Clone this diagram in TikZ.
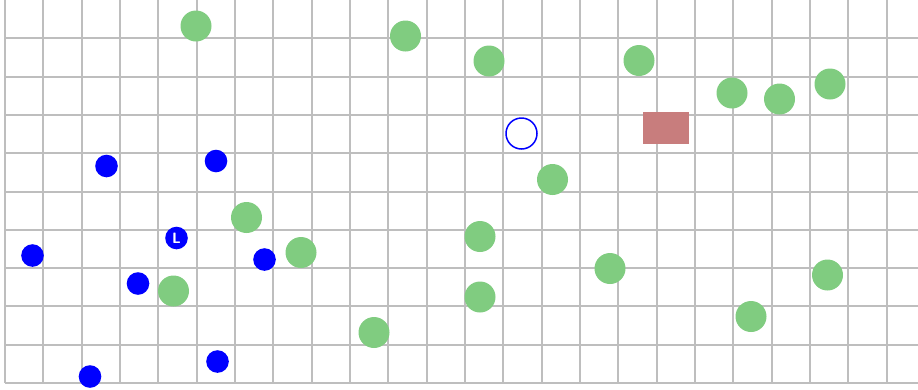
\documentclass[tikz,border=0pt]{standalone}
\usepackage{xcolor}
\usetikzlibrary{positioning}

\definecolor{foodgreen}{RGB}{128,204,128}
\definecolor{agentblue}{RGB}{0,0,255}
\definecolor{goalred}{RGB}{200,125,125}
\definecolor{gridgray}{RGB}{190,190,190}

\begin{document}
\begin{tikzpicture}[
    x=1pt, y=-1pt,
    gridline/.style={draw=gridgray, line width=2pt},
    food/.style={circle, fill=foodgreen, inner sep=0pt, minimum size=31pt},
    agent/.style={circle, fill=agentblue, inner sep=0pt, minimum size=22.6pt},
    target/.style={circle, draw=agentblue, line width=1.5pt, inner sep=0pt, minimum size=31pt},
    goalbox/.style={rectangle, fill=goalred, inner sep=0pt, minimum width=46pt, minimum height=32pt}
  ]
  \useasboundingbox (0,0) rectangle (918,389);
  \fill[white] (0,0) rectangle (918,389);

  % grid
  \foreach \k in {0,...,23}
    \draw[gridline] ({5+38.333*\k},0) -- ({5+38.333*\k},382.8);
  \foreach \k in {1,...,10}
    \draw[gridline] (5,{38.3*\k}) -- (918,{38.3*\k});

  % food
  \node[food] (g1) at (196,26) {};
  \node[food] (g2) at (405.5,36) {};
  \node[food] (g3) at (489,61) {};
  \node[food] (g4) at (639,60.5) {};
  \node[food] (g5) at (732,93) {};
  \node[food] (g6) at (779.5,99) {};
  \node[food] (g7) at (830,84) {};
  \node[food] (g8) at (552.5,179.5) {};
  \node[food] (g9) at (246.5,217.5) {};
  \node[food] (g10) at (301,252.5) {};
  \node[food] (g11) at (480,236.5) {};
  \node[food] (g12) at (173.5,291) {};
  \node[food] (g13) at (480,297) {};
  \node[food] (g14) at (610,268.5) {};
  \node[food] (g15) at (827.5,275) {};
  \node[food] (g16) at (751,316.5) {};
  \node[food] (g17) at (374,332.5) {};

  % agents
  \node[agent] (b1) at (106.5,166) {};
  \node[agent] (b2) at (216,161) {};
  \node[agent] (b3) at (32.5,255.5) {};
  \node[agent] (b4) at (264.5,259.5) {};
  \node[agent] (b5) at (138,283.5) {};
  \node[agent] (b6) at (217.5,361.5) {};
  \node[agent] (b7) at (90,376.5) {};
  \node[agent, text=white, font=\sffamily\bfseries\fontsize{15}{15}\selectfont] (leader) at (176.5,238) {L};

  % target and goal
  \node[target] (aim) at (521.5,133.5) {};
  \node[goalbox] (goal) at (666.3,128) {};
\end{tikzpicture}
\end{document}
